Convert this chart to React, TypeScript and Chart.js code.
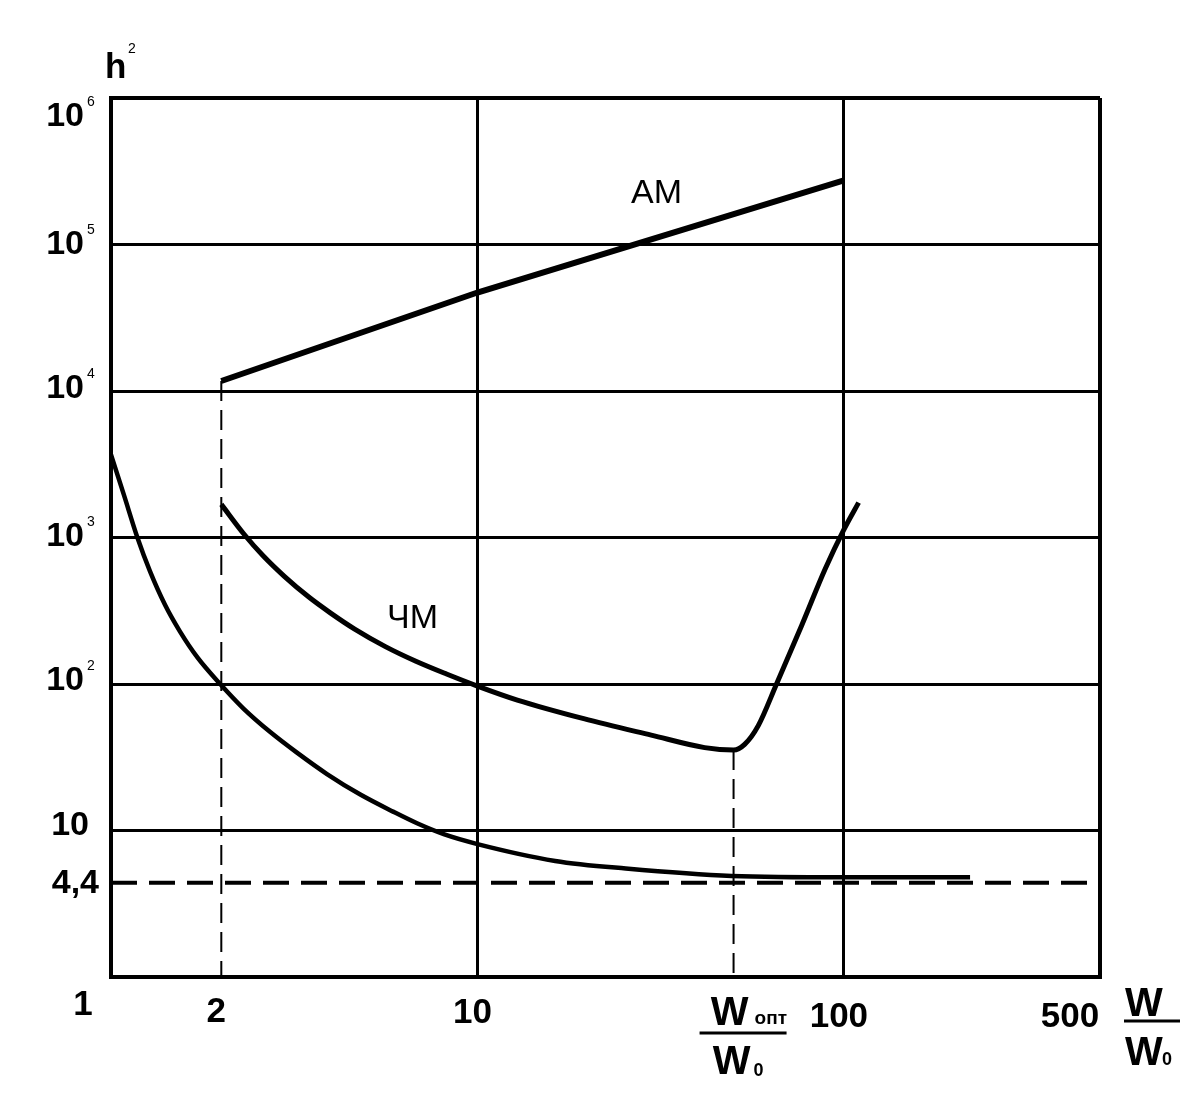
import React, { useEffect, useRef } from 'react'
import { Chart, registerables } from 'chart.js'

Chart.register(...registerables)

// W / W0 on the x axis, h^2 on the y axis (both logarithmic)
const xTickValues = [1, 10, 100, 500]
const yTickValues = [1, 10, 100, 1e3, 1e4, 1e5, 1e6]

// AM curve
const amX = [2, 10, 100]
const amY = [11700, 47000, 274000]

// ЧМ curve
const fmX = [2, 2.314, 2.597, 2.972, 3.466, 3.967, 4.624, 5.608, 6.793, 8.234, 10, 12.85, 19.5, 29.8, 41.7, 50, 53.6, 58.4, 65.5, 76.7, 88.9, 100, 109.7]
const fmY = [1683, 1044, 753, 543, 392, 306, 237, 180, 143, 117, 96.8, 77.7, 58, 44.8, 36.8, 35.4, 38.7, 52, 100, 251, 610, 1131, 1730]

// lower curve, tends to 4,4
const lowX = [1, 1.085, 1.181, 1.278, 1.405, 1.543, 1.721, 1.986, 2.299, 2.72, 3.217, 3.885, 4.79, 5.905, 6.842, 8.09, 10, 16.3, 25.4, 49.4, 100, 221]
const lowY = [3680, 1945, 995, 587, 346, 228, 152, 100, 68, 47, 34, 24.3, 17.6, 13.4, 11.2, 9.44, 8.08, 6.2, 5.5, 4.9, 4.8, 4.8]

const hLimit = 4.4
const wOpt = 50
const fmMin = 35.4

const yPowers = [6, 5, 4, 3, 2]

const FONT = '"Liberation Sans", Arial, sans-serif'

const zip = (xs: number[], ys: number[]) => xs.map((x, i) => ({ x, y: ys[i] }))

const labelsPlugin = {
  id: 'figureLabels',
  afterDraw(chart: any) {
    const { ctx, chartArea } = chart
    const xs = chart.scales.x
    const ys = chart.scales.y
    const dy = [28, 9, 7, 8, 6]
    ctx.save()
    ctx.fillStyle = '#000'
    ctx.strokeStyle = '#000'
    ctx.textBaseline = 'alphabetic'

    // y axis labels
    yPowers.forEach((p, i) => {
      const py = ys.getPixelForValue(10 ** p) + dy[i]
      ctx.font = `bold 34px ${FONT}`
      ctx.textAlign = 'right'
      ctx.fillText('10', 84, py)
      ctx.font = `14px ${FONT}`
      ctx.textAlign = 'left'
      ctx.fillText(String(p), 87, py - 20)
    })
    ctx.font = `bold 34px ${FONT}`
    ctx.textAlign = 'right'
    ctx.fillText('10', 89, ys.getPixelForValue(10) + 4)
    ctx.fillText('4,4', 99, ys.getPixelForValue(hLimit) + 10)

    // h^2
    ctx.textAlign = 'left'
    ctx.font = `bold 35px ${FONT}`
    ctx.fillText('h', 105, 78)
    ctx.font = `14px ${FONT}`
    ctx.fillText('2', 128, 53)

    // x axis labels
    const base = chartArea.bottom
    ctx.font = `bold 35px ${FONT}`
    ctx.textAlign = 'center'
    ctx.fillText('1', 83, base + 38)
    ctx.fillText('2', xs.getPixelForValue(2) - 5, base + 45)
    ctx.fillText('10', xs.getPixelForValue(10) - 5, base + 46)
    ctx.fillText('100', xs.getPixelForValue(100) - 5, base + 50)
    ctx.fillText('500', xs.getPixelForValue(500) - 30, base + 50)

    // W_opt / W0
    const cx = xs.getPixelForValue(wOpt) + 9
    ctx.font = `bold 40px ${FONT}`
    ctx.fillText('W', cx - 13, base + 48)
    ctx.fillText('W', cx - 11, base + 97)
    ctx.textAlign = 'left'
    ctx.font = `bold 19px ${FONT}`
    ctx.fillText('опт', cx + 12, base + 47)
    ctx.font = `bold 18px ${FONT}`
    ctx.fillText('0', cx + 11, base + 99)
    ctx.lineWidth = 3
    ctx.beginPath()
    ctx.moveTo(cx - 43, base + 56)
    ctx.lineTo(cx + 44, base + 56)
    ctx.stroke()

    // W / W0 axis name
    const rx = 1144
    ctx.textAlign = 'center'
    ctx.font = `bold 40px ${FONT}`
    ctx.fillText('W', rx, base + 39)
    ctx.fillText('W', rx, base + 88)
    ctx.textAlign = 'left'
    ctx.font = `bold 18px ${FONT}`
    ctx.fillText('0', rx + 18, base + 88)
    ctx.beginPath()
    ctx.moveTo(rx - 20, base + 44)
    ctx.lineTo(rx + 36, base + 44)
    ctx.stroke()

    // curve names
    ctx.font = `34px ${FONT}`
    ctx.fillText('АМ', 631, 203)
    ctx.fillText('ЧМ', 387, 628)
    ctx.restore()
  },
}

const App = () => {
  const canvasRef = useRef<HTMLCanvasElement | null>(null)

  useEffect(() => {
    if (!canvasRef.current) return
    const solid = { pointRadius: 0, borderColor: '#000', fill: false }
    const chart = new Chart(canvasRef.current, {
      type: 'line',
      data: {
        datasets: [
          { ...solid, label: 'АМ', data: zip(amX, amY), borderWidth: 6, tension: 0 },
          { ...solid, label: 'ЧМ', data: zip(fmX, fmY), borderWidth: 5, cubicInterpolationMode: 'monotone' },
          { ...solid, label: 'low', data: zip(lowX, lowY), borderWidth: 4.5, cubicInterpolationMode: 'monotone' },
          {
            ...solid,
            label: '4,4',
            data: [{ x: 1, y: hLimit }, { x: 500, y: hLimit }],
            borderWidth: 4,
            borderDash: [26, 12],
          },
          {
            ...solid,
            label: 'x=2',
            data: [{ x: 2, y: amY[0] }, { x: 2, y: 1 }],
            borderWidth: 2,
            borderDash: [20, 9],
          },
          {
            ...solid,
            label: 'Wopt',
            data: [{ x: wOpt, y: fmMin }, { x: wOpt, y: 1 }],
            borderWidth: 2,
            borderDash: [20, 9],
          },
        ],
      },
      options: {
        animation: false,
        responsive: true,
        maintainAspectRatio: false,
        layout: { padding: { top: 98, right: 98, left: 0, bottom: 0 }, autoPadding: false },
        plugins: { legend: { display: false }, tooltip: { enabled: false } },
        scales: {
          x: {
            type: 'logarithmic',
            min: 1,
            max: 500,
            afterBuildTicks: (s: any) => {
              s.ticks = xTickValues.map((value) => ({ value }))
            },
            afterFit: (s: any) => {
              s.height = 141
            },
            ticks: { display: false },
            grid: {
              color: '#000',
              lineWidth: (c: any) => (c.tick && c.tick.value === 500 ? 4 : 3),
              drawTicks: false,
            },
            border: { display: true, color: '#000', width: 4 },
          },
          y: {
            type: 'logarithmic',
            min: 1,
            max: 1e6,
            afterBuildTicks: (s: any) => {
              s.ticks = yTickValues.map((value) => ({ value }))
            },
            afterFit: (s: any) => {
              s.width = 111
            },
            ticks: { display: false },
            grid: {
              color: '#000',
              lineWidth: (c: any) => (c.tick && c.tick.value === 1e6 ? 4 : 3),
              drawTicks: false,
            },
            border: { display: true, color: '#000', width: 4 },
          },
        },
      },
      plugins: [labelsPlugin],
    })
    return () => chart.destroy()
  }, [])

  return (
    <div style={{ position: 'absolute', left: 0, top: 0, width: 1198, height: 1118, background: '#fff' }}>
      <canvas ref={canvasRef} />
    </div>
  )
}

export default App
